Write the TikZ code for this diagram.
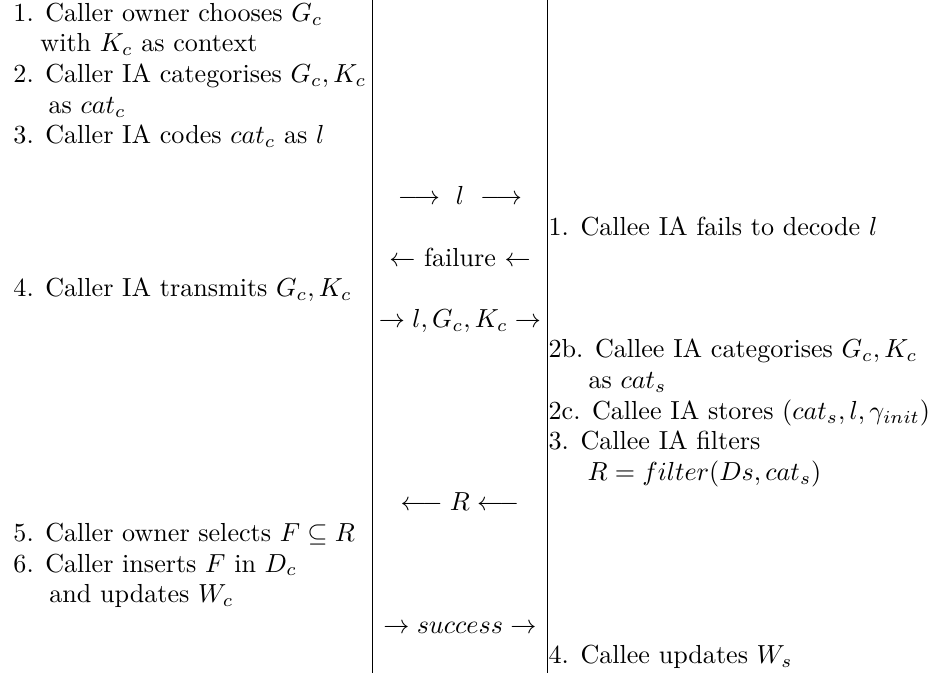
\documentclass[tikz,border=0pt]{standalone}
\begin{document}
\begin{tikzpicture}[x=1.035pt, y=-1.035pt,
    txt/.style={anchor=base west, inner sep=0pt},
    msg/.style={anchor=base, inner sep=0pt}]
  \useasboundingbox (0,0) rectangle (347.4,249.3);

  % 縦線
  \coordinate (LT) at (138.1,0);
  \coordinate (LB) at (138.1,249.3);
  \coordinate (RT) at (202.6,0);
  \coordinate (RB) at (202.6,249.3);
  \draw (LT) -- (LB);
  \draw (RT) -- (RB);

  % 呼び出し側
  \node[txt] (c1)  at (4.8, 7.93)   {1. Caller owner chooses $G_c$};
  \node[txt] (c1b) at (14.8, 19.26) {with $K_c$ as context};
  \node[txt] (c2)  at (4.8, 30.59)  {2. Caller IA categorises $G_c, K_c$};
  \node[txt] (c2b) at (17.8, 41.92) {as $cat_c$};
  \node[txt] (c3)  at (4.8, 53.25)  {3. Caller IA codes $cat_c$ as $l$};
  \node[txt] (c4)  at (4.8, 109.9)  {4. Caller IA transmits $G_c, K_c$};
  \node[txt] (c5)  at (4.8, 200.54) {5. Caller owner selects $F \subseteq R$};
  \node[txt] (c6)  at (4.8, 211.87) {6. Caller inserts $F$ in $D_c$};
  \node[txt] (c6b) at (18.1, 223.2) {and updates $W_c$};

  % メッセージ
  \node[msg] (m1) at (170.35, 75.91)  {$\longrightarrow\ l\ \longrightarrow$};
  \node[msg] (m2) at (170.35, 98.57)  {$\leftarrow$ failure $\leftarrow$};
  \node[msg] (m3) at (170.35, 121.23) {$\rightarrow l, G_c, K_c \rightarrow$};
  \node[msg] (m4) at (170.35, 189.21) {$\longleftarrow R \longleftarrow$};
  \node[msg] (m5) at (170.35, 234.53) {$\rightarrow success \rightarrow$};

  % 呼び出される側
  \node[txt] (s1)  at (203, 87.24)    {1. Callee IA fails to decode $l$};
  \node[txt] (s2)  at (203, 132.56)   {2b. Callee IA categorises $G_c, K_c$};
  \node[txt] (s2b) at (217.8, 143.89) {as $cat_s$};
  \node[txt] (s2c) at (203, 155.22)   {2c. Callee IA stores $(cat_s, l, \gamma_{init})$};
  \node[txt] (s3)  at (203, 166.55)   {3. Callee IA filters};
  \node[txt] (s3b) at (217.4, 177.88) {$R = filter(Ds, cat_s)$};
  \node[txt] (s4)  at (203, 245.86)   {4. Callee updates $W_s$};
\end{tikzpicture}
\end{document}
